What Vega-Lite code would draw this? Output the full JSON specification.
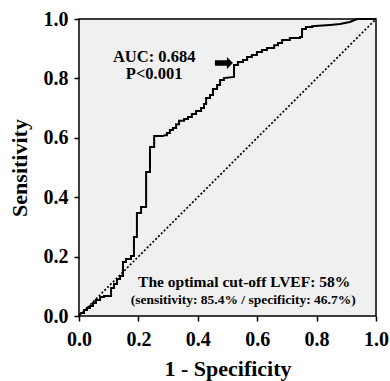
{
  "$schema": "https://vega.github.io/schema/vega-lite/v6.json",
  "width": 297,
  "height": 297,
  "autosize": "none",
  "padding": {"left": 79, "top": 19, "right": 14, "bottom": 65},
  "background": "white",
  "config": {
    "view": {"fill": "#f0f0f0", "stroke": "black", "strokeWidth": 1.5},
    "font": "Liberation Serif",
    "axis": {
      "domain": false,
      "grid": false,
      "ticks": true,
      "tickColor": "black",
      "tickWidth": 1.5,
      "tickSize": 5,
      "labelFlush": false,
      "labelFont": "Liberation Serif",
      "labelFontWeight": "bold",
      "labelFontSize": 20,
      "labelColor": "black",
      "titleFont": "Liberation Serif",
      "titleFontWeight": "bold",
      "titleFontSize": 22,
      "titleColor": "black"
    }
  },
  "datasets": {
    "roc": [
      {"x":0,"y":0},{"x":0.007,"y":0.010},{"x":0.017,"y":0.010},{"x":0.017,"y":0.020},{"x":0.027,"y":0.020},{"x":0.027,"y":0.027},{"x":0.037,"y":0.027},{"x":0.037,"y":0.034},{"x":0.047,"y":0.034},{"x":0.047,"y":0.044},{"x":0.057,"y":0.044},{"x":0.057,"y":0.054},{"x":0.071,"y":0.054},{"x":0.071,"y":0.064},{"x":0.084,"y":0.064},{"x":0.084,"y":0.067},{"x":0.108,"y":0.067},{"x":0.108,"y":0.094},{"x":0.118,"y":0.094},{"x":0.118,"y":0.108},{"x":0.128,"y":0.108},{"x":0.128,"y":0.125},{"x":0.138,"y":0.125},{"x":0.138,"y":0.135},{"x":0.148,"y":0.135},{"x":0.148,"y":0.182},{"x":0.158,"y":0.182},{"x":0.158,"y":0.192},{"x":0.175,"y":0.192},{"x":0.175,"y":0.202},{"x":0.185,"y":0.202},{"x":0.185,"y":0.266},{"x":0.195,"y":0.266},{"x":0.195,"y":0.347},{"x":0.209,"y":0.347},{"x":0.209,"y":0.367},{"x":0.226,"y":0.367},{"x":0.226,"y":0.485},{"x":0.239,"y":0.485},{"x":0.239,"y":0.569},{"x":0.253,"y":0.569},{"x":0.253,"y":0.606},{"x":0.283,"y":0.606},{"x":0.290,"y":0.609},{"x":0.296,"y":0.609},{"x":0.296,"y":0.616},{"x":0.306,"y":0.616},{"x":0.306,"y":0.626},{"x":0.316,"y":0.626},{"x":0.316,"y":0.633},{"x":0.327,"y":0.633},{"x":0.327,"y":0.646},{"x":0.337,"y":0.646},{"x":0.337,"y":0.657},{"x":0.354,"y":0.657},{"x":0.354,"y":0.663},{"x":0.367,"y":0.663},{"x":0.367,"y":0.670},{"x":0.380,"y":0.670},{"x":0.380,"y":0.680},{"x":0.394,"y":0.680},{"x":0.394,"y":0.690},{"x":0.411,"y":0.690},{"x":0.411,"y":0.700},{"x":0.421,"y":0.700},{"x":0.421,"y":0.714},{"x":0.428,"y":0.714},{"x":0.428,"y":0.734},{"x":0.441,"y":0.734},{"x":0.441,"y":0.744},{"x":0.451,"y":0.744},{"x":0.451,"y":0.764},{"x":0.465,"y":0.764},{"x":0.465,"y":0.778},{"x":0.475,"y":0.778},{"x":0.475,"y":0.795},{"x":0.488,"y":0.795},{"x":0.488,"y":0.801},{"x":0.522,"y":0.805},{"x":0.522,"y":0.845},{"x":0.535,"y":0.845},{"x":0.535,"y":0.855},{"x":0.552,"y":0.855},{"x":0.552,"y":0.862},{"x":0.566,"y":0.862},{"x":0.566,"y":0.872},{"x":0.582,"y":0.872},{"x":0.582,"y":0.879},{"x":0.599,"y":0.879},{"x":0.599,"y":0.889},{"x":0.616,"y":0.889},{"x":0.616,"y":0.896},{"x":0.633,"y":0.896},{"x":0.633,"y":0.902},{"x":0.657,"y":0.902},{"x":0.657,"y":0.912},{"x":0.670,"y":0.912},{"x":0.670,"y":0.919},{"x":0.684,"y":0.919},{"x":0.684,"y":0.929},{"x":0.710,"y":0.929},{"x":0.710,"y":0.936},{"x":0.744,"y":0.936},{"x":0.744,"y":0.939},{"x":0.751,"y":0.939},{"x":0.751,"y":0.966},{"x":0.764,"y":0.966},{"x":0.764,"y":0.973},{"x":0.785,"y":0.973},{"x":0.785,"y":0.976},{"x":0.845,"y":0.980},{"x":0.879,"y":0.983},{"x":0.912,"y":0.990},{"x":0.936,"y":1.0},{"x":1.0,"y":1.0}
    ],
    "diag": [{"x":0,"y":0},{"x":1,"y":1}],
    "big": [
      {"x":0.253,"y":0.873,"t":"AUC: 0.684"},
      {"x":0.253,"y":0.815,"t":"P<0.001"}
    ],
    "cut": [{"x":0.556,"y":0.116,"t":"The optimal cut-off LVEF: 58%"}],
    "cut2": [{"x":0.553,"y":0.054,"t":"(sensitivity: 85.4% / specificity: 46.7%)"}],
    "arrow": [{"x":0.488,"y":0.852}]
  },
  "layer": [
    {
      "data": {"name": "diag"},
      "mark": {"type": "line", "color": "black", "strokeWidth": 1.7, "strokeDash": [2, 2]},
      "encoding": {
        "x": {"field": "x", "type": "quantitative", "scale": {"domain": [0, 1], "nice": false},
              "axis": {"values": [0, 0.2, 0.4, 0.6, 0.8, 1], "format": ".1f", "title": "1 - Specificity", "labelPadding": 8, "titlePadding": 9}},
        "y": {"field": "y", "type": "quantitative", "scale": {"domain": [0, 1], "nice": false},
              "axis": {"values": [0, 0.2, 0.4, 0.6, 0.8, 1], "format": ".1f", "title": "Sensitivity", "labelPadding": 6, "titlePadding": 12}}
      }
    },
    {
      "data": {"name": "roc"},
      "mark": {"type": "line", "color": "black", "strokeWidth": 2},
      "encoding": {
        "x": {"field": "x", "type": "quantitative"},
        "y": {"field": "y", "type": "quantitative"},
        "order": {"value": null}
      }
    },
    {
      "data": {"name": "arrow"},
      "mark": {"type": "point", "filled": true, "color": "black", "opacity": 1, "size": 324,
               "shape": "M-1,-0.3L0.33,-0.3L0.33,-0.67L1,0L0.33,0.67L0.33,0.3L-1,0.3Z"},
      "encoding": {
        "x": {"field": "x", "type": "quantitative"},
        "y": {"field": "y", "type": "quantitative"}
      }
    },
    {
      "data": {"name": "big"},
      "mark": {"type": "text", "font": "Liberation Serif", "fontWeight": "bold", "fontSize": 16.5, "color": "black", "align": "center", "baseline": "middle"},
      "encoding": {
        "x": {"field": "x", "type": "quantitative"},
        "y": {"field": "y", "type": "quantitative"},
        "text": {"field": "t"}
      }
    },
    {
      "data": {"name": "cut"},
      "mark": {"type": "text", "font": "Liberation Serif", "fontWeight": "bold", "fontSize": 15.5, "color": "black", "align": "center", "baseline": "middle"},
      "encoding": {
        "x": {"field": "x", "type": "quantitative"},
        "y": {"field": "y", "type": "quantitative"},
        "text": {"field": "t"}
      }
    },
    {
      "data": {"name": "cut2"},
      "mark": {"type": "text", "font": "Liberation Serif", "fontWeight": "bold", "fontSize": 13.5, "color": "black", "align": "center", "baseline": "middle"},
      "encoding": {
        "x": {"field": "x", "type": "quantitative"},
        "y": {"field": "y", "type": "quantitative"},
        "text": {"field": "t"}
      }
    }
  ]
}
